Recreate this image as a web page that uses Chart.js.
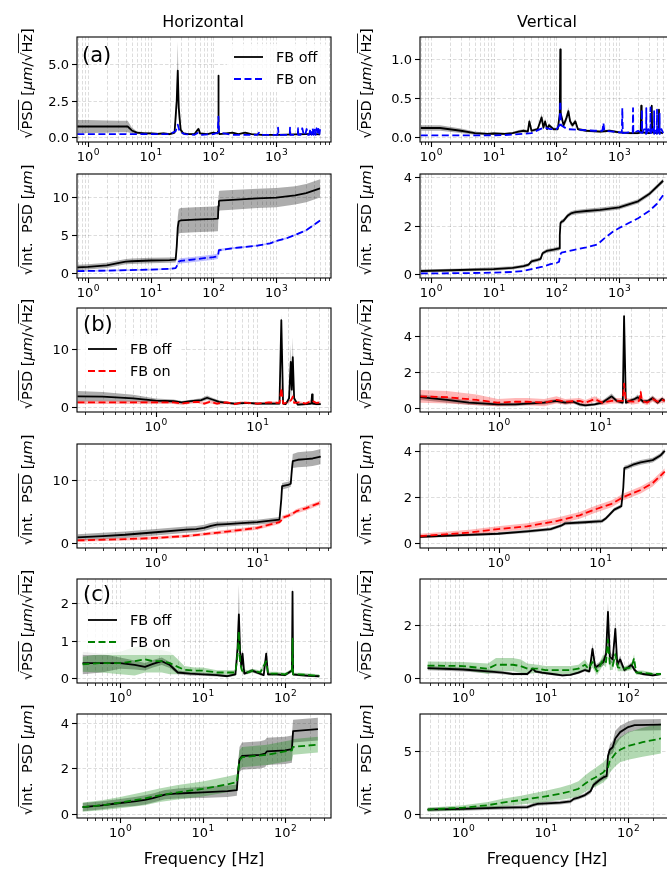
<!DOCTYPE html>
<html><head><meta charset="utf-8">
<script src="https://cdn.jsdelivr.net/npm/chart.js@4.4.0/dist/chart.umd.min.js"></script>
<style>
html,body{margin:0;padding:0;overflow:hidden;background:#fff;width:667px;height:871px;position:relative;}
canvas{position:absolute;left:0;top:0;}
</style></head><body>
<script>
// ================= DATA =================
// ---- (a) Horizontal PSD ----
const aH_psd_off_f  = [0.68,1,2,3,4.3,5,6,8,10,13,16,20,24,26,27,28,30,33,40,50,56,58,61,80,100,115,119,120,121,125,160,200,250,320,400,600,1000,2000,3000,4000,5000];
const aH_psd_off_y  = [0.72,0.72,0.72,0.72,0.72,0.45,0.3,0.25,0.25,0.22,0.25,0.2,0.3,2.5,4.55,2.0,0.5,0.25,0.2,0.2,0.5,0.55,0.25,0.2,0.3,0.25,0.4,4.2,0.4,0.2,0.25,0.3,0.2,0.3,0.2,0.15,0.15,0.18,0.2,0.2,0.18];
const aH_psd_off_sd = [0.45,0.45,0.42,0.4,0.4,0.2,0.1,0.08,0.08,0.08,0.08,0.08,0.1,1.0,2.0,0.8,0.2,0.08,0.06,0.06,0.1,0.1,0.06,0.06,0.06,0.06,0.1,0.6,0.1,0.05,0.05,0.05,0.05,0.05,0.05,0.04,0.04,0.04,0.05,0.05,0.05];
const aH_psd_on_f   = [0.68,20,25,27,29,35,50,57,65,100,117,120,123,200,300,500,530,560,800,1050,1070,1090,1400,1640,1660,1680,2000,2210,2230,2250,2450,2600,2750,2900,3050,3200,3350,3500,3650,3800,3950,4100,4250,4400,4550,4700,4850,5000];
const aH_psd_on_y   = [0.2,0.2,0.4,0.85,0.35,0.2,0.15,0.3,0.15,0.2,0.3,1.4,0.3,0.15,0.15,0.15,0.3,0.15,0.15,0.15,0.65,0.15,0.15,0.15,0.65,0.15,0.15,0.15,0.6,0.15,0.15,0.6,0.15,0.15,0.55,0.15,0.15,0.55,0.15,0.6,0.15,0.5,0.15,0.6,0.15,0.55,0.15,0.55];
// ---- (a) Vertical PSD ----
const aV_psd_off_f  = [0.69,1.4,3,5,8,10,15,20,25,30,35,37,40,50,58,62,66,71,76,90,105,113,115,117,130,145,155,165,180,200,220,300,500,700,1000,1500,2000,2200,2240,2280,3000,3250,3300,3350,4000,4250,4300,4350,5000];
const aV_psd_off_y  = [0.115,0.115,0.08,0.05,0.04,0.045,0.04,0.05,0.07,0.08,0.07,0.2,0.08,0.1,0.25,0.12,0.2,0.1,0.15,0.1,0.1,0.3,1.12,0.3,0.15,0.25,0.33,0.2,0.15,0.2,0.1,0.08,0.07,0.08,0.06,0.05,0.05,0.06,0.4,0.06,0.05,0.06,0.4,0.06,0.05,0.06,0.35,0.06,0.05];
const aV_psd_off_sd = [0.035,0.035,0.03,0.02,0.015,0.015,0.015,0.015,0.02,0.02,0.02,0.04,0.02,0.02,0.05,0.03,0.04,0.02,0.03,0.02,0.02,0.05,0.1,0.05,0.03,0.05,0.05,0.04,0.03,0.03,0.02,0.015,0.015,0.015,0.015,0.015,0.015,0.015,0.03,0.015,0.015,0.015,0.03,0.015,0.015,0.015,0.03,0.015,0.015];
const aV_psd_on_f   = [0.69,10,20,30,40,55,65,80,100,112,115,118,150,250,400,540,560,580,800,1000,1100,1120,1140,1400,1640,1660,1680,2000,2280,2300,2320,2500,2680,2700,2720,2900,3130,3150,3170,3400,3580,3600,3620,3800,3980,4000,4020,4200,4380,4400,4420,4700,5000];
const aV_psd_on_y   = [0.02,0.02,0.03,0.04,0.05,0.1,0.12,0.1,0.1,0.15,0.46,0.15,0.1,0.09,0.08,0.08,0.18,0.08,0.07,0.06,0.06,0.37,0.05,0.06,0.05,0.37,0.05,0.08,0.05,0.35,0.05,0.1,0.04,0.37,0.04,0.1,0.04,0.38,0.04,0.1,0.04,0.33,0.04,0.1,0.04,0.35,0.04,0.1,0.04,0.3,0.04,0.1,0.05];
// ---- (a) Horizontal integrated ----
const aH_int_off_f  = [0.68,1,2,3,4,5,10,20,25,26,27,28,30,50,100,118,120,122,125,200,500,1000,2000,3000,5000];
const aH_int_off_y  = [0.75,0.8,1.0,1.3,1.5,1.55,1.65,1.7,1.75,3.5,6.0,6.8,6.9,7.0,7.1,7.15,8.8,9.4,9.5,9.6,9.8,9.9,10.2,10.5,11.1];
const aH_int_off_sd = [0.35,0.35,0.35,0.35,0.35,0.35,0.35,0.35,0.35,0.8,1.4,1.6,1.65,1.65,1.65,1.65,1.4,1.3,1.3,1.3,1.25,1.25,1.2,1.2,1.2];
const aH_int_on_f   = [0.68,1,3,10,20,25,26,27,28,30,50,100,118,120,122,150,200,300,500,800,1000,1500,2000,3000,5000];
const aH_int_on_y   = [0.25,0.28,0.35,0.45,0.55,0.65,0.9,1.3,1.5,1.6,1.8,2.1,2.2,2.6,3.0,3.1,3.25,3.4,3.6,3.9,4.2,4.6,5.0,5.6,6.9];
const aH_int_on_sd  = [0.12,0.12,0.12,0.12,0.12,0.12,0.2,0.3,0.35,0.35,0.35,0.35,0.35,0.3,0.2,0.15,0.12,0.12,0.12,0.12,0.12,0.12,0.12,0.12,0.12];
// ---- (a) Vertical integrated ----
const aV_int_off_f  = [0.69,1,3,10,20,30,36,40,50,56,60,70,90,110,113,116,120,130,150,170,200,300,500,1000,2000,3000,5000];
const aV_int_off_y  = [0.12,0.13,0.16,0.2,0.25,0.32,0.38,0.52,0.58,0.62,0.85,0.95,1.0,1.05,1.6,2.1,2.15,2.2,2.4,2.5,2.55,2.6,2.65,2.75,3.0,3.3,3.85];
const aV_int_off_sd = [0.06,0.06,0.06,0.07,0.07,0.07,0.07,0.08,0.08,0.08,0.08,0.08,0.08,0.08,0.09,0.09,0.09,0.09,0.09,0.09,0.09,0.09,0.09,0.09,0.09,0.09,0.09];
const aV_int_on_f   = [0.69,3,10,20,30,40,60,80,100,110,115,120,200,300,450,600,800,1000,2000,3000,4000,5000];
const aV_int_on_y   = [0.02,0.03,0.05,0.08,0.12,0.2,0.3,0.4,0.45,0.5,0.8,0.88,1.0,1.1,1.22,1.5,1.75,1.9,2.3,2.6,2.9,3.25];
// ---- (b) Horizontal PSD ----
const bH_psd_off_f  = [0.17,0.3,0.6,1.0,1.5,1.8,2.2,2.8,3.2,3.6,4.2,5,6,8,10,13,16.5,17.2,17.9,19,20.5,21.3,21.8,22.3,23,25,30,34,34.5,35,38,42];
const bH_psd_off_y  = [1.85,1.8,1.5,1.1,1.0,0.8,1.0,1.2,1.6,1.3,0.9,0.7,0.6,0.7,0.6,0.6,0.6,15.0,0.6,0.5,1.5,7.8,3.0,8.6,1.5,0.4,0.5,0.6,2.2,0.6,0.5,0.5];
const bH_psd_off_sd = [0.9,0.8,0.6,0.35,0.3,0.25,0.25,0.3,0.4,0.3,0.25,0.2,0.2,0.2,0.2,0.2,0.2,1.0,0.2,0.2,0.5,3,1.5,3.5,0.5,0.2,0.2,0.2,0.4,0.2,0.2,0.2];
const bH_psd_on_f   = [0.17,0.5,1.0,1.5,1.8,2.2,2.6,3.0,3.4,4,5,6,7,8,10,13,16.5,17.2,17.9,20,21.5,22.3,23,26,30,34.5,38,42];
const bH_psd_on_y   = [0.8,0.8,0.8,0.8,0.6,0.8,0.9,0.6,0.9,0.6,0.8,0.5,0.8,0.7,0.6,0.8,0.7,3.3,0.6,0.8,1.2,1.8,0.7,0.8,0.6,1.1,0.7,0.8];
const bH_psd_on_sd  = [0.3,0.3,0.3,0.3,0.25,0.25,0.25,0.25,0.25,0.25,0.25,0.2,0.2,0.2,0.2,0.2,0.2,0.8,0.2,0.2,0.3,0.5,0.2,0.2,0.2,0.3,0.2,0.2];
// ---- (b) Vertical PSD ----
const bV_psd_off_f  = [0.168,0.31,0.51,0.98,1.45,1.9,2.8,3.7,4.5,5.4,6.25,7.1,8.8,10.4,12.9,14.5,16.6,17.1,17.8,19.4,21.7,23.3,26.5,29.6,32.7,36.6,40.4,43];
const bV_psd_off_y  = [0.6,0.45,0.3,0.2,0.2,0.25,0.3,0.4,0.3,0.35,0.2,0.15,0.2,0.3,0.65,0.4,0.3,5.1,0.3,0.4,0.5,0.6,0.35,0.4,0.55,0.3,0.5,0.4];
const bV_psd_off_sd = [0.15,0.15,0.12,0.1,0.1,0.1,0.1,0.1,0.1,0.1,0.1,0.08,0.08,0.1,0.15,0.1,0.1,0.4,0.1,0.1,0.1,0.15,0.1,0.1,0.15,0.1,0.1,0.1];
const bV_psd_on_f   = [0.168,0.31,0.605,0.98,1.45,1.9,2.8,3.7,4.5,6.25,7.1,8.8,10.4,12.9,16.6,17.1,17.8,20.9,24.1,24.9,25.7,28.8,32.7,36.6,40.4,43];
const bV_psd_on_y   = [0.65,0.6,0.45,0.3,0.35,0.35,0.3,0.45,0.35,0.4,0.3,0.5,0.3,0.4,0.4,1.35,0.4,0.35,0.4,0.9,0.4,0.3,0.5,0.35,0.45,0.4];
const bV_psd_on_sd  = [0.35,0.35,0.3,0.2,0.2,0.2,0.2,0.2,0.15,0.15,0.15,0.15,0.15,0.15,0.15,0.3,0.15,0.15,0.15,0.2,0.15,0.15,0.15,0.15,0.15,0.15];
// ---- (b) Horizontal integrated ----
const bH_int_off_f  = [0.17,0.3,0.5,1,2,2.5,3,3.5,4,5,7,10,16.5,17.2,17.5,20,21.3,21.8,22.3,25,30,35,42];
const bH_int_off_y  = [0.9,1.1,1.3,1.7,2.1,2.2,2.4,2.7,2.9,3.0,3.15,3.3,3.7,7.0,9.0,9.2,9.4,11.5,13.0,13.2,13.3,13.4,13.7];
const bH_int_off_sd = [0.5,0.5,0.5,0.5,0.5,0.5,0.5,0.5,0.45,0.4,0.4,0.4,0.4,0.5,0.5,0.5,0.5,0.9,1.1,1.2,1.2,1.2,1.2];
const bH_int_on_f   = [0.17,0.5,1,2,3,5,10,16.5,17.2,17.5,20,22,24,26,30,42];
const bH_int_on_y   = [0.4,0.6,0.8,1.1,1.4,1.8,2.4,3.3,3.6,4.0,4.3,4.6,5.0,5.2,5.5,6.4];
const bH_int_on_sd  = [0.2,0.22,0.25,0.25,0.27,0.3,0.3,0.3,0.3,0.3,0.32,0.33,0.34,0.35,0.35,0.35];
// ---- (b) Vertical integrated ----
const bV_int_off_f  = [0.168,0.51,0.98,1.9,3.24,4.1,4.5,7.1,10.4,11.2,12.1,13.7,16.1,16.8,17.2,18.6,20.9,24.9,32.7,38.9,43];
const bV_int_off_y  = [0.27,0.35,0.4,0.5,0.6,0.75,0.85,0.9,0.95,1.05,1.2,1.45,1.6,2.4,3.25,3.3,3.4,3.5,3.6,3.8,4.0];
const bV_int_off_sd = [0.06,0.06,0.06,0.07,0.07,0.07,0.08,0.08,0.08,0.08,0.08,0.08,0.08,0.1,0.1,0.1,0.1,0.1,0.1,0.1,0.1];
const bV_int_on_f   = [0.168,0.51,0.98,1.9,3.7,6.25,8.8,12.9,16.9,24.9,32.7,43];
const bV_int_on_y   = [0.3,0.45,0.6,0.72,0.95,1.2,1.45,1.7,2.0,2.3,2.6,3.1];
const bV_int_on_sd  = [0.1,0.12,0.13,0.14,0.15,0.15,0.15,0.15,0.15,0.15,0.15,0.15];
// ---- (c) Horizontal PSD ----
const cH_psd_off_f  = [0.35,0.6,1,1.5,2,2.5,3.2,4,5,7,10,15,20,25,26.5,27.5,28.5,29.5,30.5,32,40,55,59,62,80,100,121,123,125,150,200,260];
const cH_psd_off_y  = [0.4,0.4,0.4,0.35,0.3,0.38,0.45,0.35,0.15,0.12,0.1,0.08,0.05,0.1,0.8,1.7,0.7,0.3,0.65,0.12,0.2,0.08,0.65,0.1,0.1,0.08,0.2,2.3,0.1,0.08,0.06,0.05];
const cH_psd_off_sd = [0.3,0.25,0.15,0.12,0.1,0.1,0.1,0.08,0.05,0.05,0.04,0.04,0.03,0.04,0.3,0.8,0.2,0.08,0.1,0.04,0.05,0.03,0.1,0.03,0.03,0.03,0.05,0.2,0.03,0.03,0.03,0.03];
const cH_psd_on_f   = [0.35,0.6,1,1.5,2,2.5,3.2,4,5,6,8,10,15,20,25,26.5,27.5,28.5,30,35,40,50,59,62,80,100,121,123,125,150,200,260];
const cH_psd_on_y   = [0.37,0.4,0.4,0.45,0.5,0.45,0.45,0.4,0.3,0.22,0.2,0.2,0.15,0.15,0.15,0.6,1.25,0.4,0.2,0.15,0.2,0.15,0.45,0.12,0.12,0.1,0.2,1.05,0.1,0.1,0.08,0.06];
const cH_psd_on_sd  = [0.2,0.25,0.3,0.38,0.35,0.3,0.3,0.3,0.2,0.1,0.08,0.08,0.06,0.06,0.06,0.2,0.4,0.15,0.06,0.05,0.05,0.05,0.1,0.05,0.05,0.04,0.05,0.2,0.04,0.04,0.04,0.04];
// ---- (c) Vertical PSD ----
const cV_psd_off_f  = [0.37,1,2,3,4,6,6.5,7,7.5,9,12,16,20,25,30,34,37,40,45,50,54,57,60,65,70,74,80,90,100,110,120,130,150,200,250];
const cV_psd_off_y  = [0.37,0.32,0.25,0.2,0.15,0.15,0.25,0.35,0.25,0.2,0.15,0.1,0.12,0.2,0.3,0.25,1.1,0.4,0.5,0.6,0.9,2.5,0.8,0.7,1.85,0.5,0.7,0.3,0.4,0.5,0.3,0.2,0.15,0.1,0.15];
const cV_psd_off_sd = [0.08,0.08,0.07,0.06,0.05,0.05,0.05,0.06,0.05,0.05,0.05,0.04,0.04,0.05,0.06,0.06,0.2,0.1,0.1,0.15,0.2,0.4,0.2,0.15,0.3,0.1,0.15,0.08,0.08,0.1,0.08,0.05,0.05,0.04,0.04];
const cV_psd_on_f   = [0.37,1,2,2.5,4,5,6,8,10,15,20,25,30,33,37,42,50,54,57,60,65,70,75,90,110,118,125,150,200,250];
const cV_psd_on_y   = [0.47,0.45,0.35,0.5,0.5,0.45,0.35,0.35,0.3,0.3,0.3,0.35,0.5,0.35,0.6,0.25,0.7,0.6,1.45,0.5,0.45,0.9,0.4,0.35,0.4,0.75,0.2,0.2,0.15,0.15];
const cV_psd_on_sd  = [0.15,0.15,0.2,0.25,0.25,0.25,0.2,0.15,0.15,0.15,0.15,0.15,0.2,0.15,0.2,0.15,0.2,0.2,0.3,0.2,0.15,0.2,0.15,0.1,0.1,0.15,0.08,0.08,0.05,0.05];
// ---- (c) Horizontal integrated ----
const cH_int_off_f  = [0.35,0.6,1,1.5,2,2.5,3.5,5,10,20,26,27,28,30,50,57,60,100,121,123,125,250];
const cH_int_off_y  = [0.3,0.38,0.48,0.55,0.62,0.7,0.85,0.9,0.95,1.0,1.05,1.9,2.4,2.55,2.6,2.65,2.75,2.8,2.85,3.3,3.65,3.73];
const cH_int_off_sd = [0.18,0.18,0.18,0.2,0.2,0.2,0.2,0.22,0.25,0.25,0.25,0.4,0.55,0.6,0.6,0.6,0.6,0.6,0.6,0.55,0.5,0.5];
const cH_int_on_f   = [0.35,0.6,1,2,3,5,10,20,26,27,28,30,60,100,121,123,125,250];
const cH_int_on_y   = [0.3,0.38,0.5,0.68,0.82,0.95,1.1,1.3,1.4,1.9,2.35,2.5,2.6,2.75,2.8,2.9,2.95,3.05];
const cH_int_on_sd  = [0.2,0.22,0.25,0.3,0.3,0.32,0.33,0.35,0.35,0.4,0.45,0.45,0.45,0.45,0.45,0.4,0.35,0.35];
// ---- (c) Vertical integrated ----
const cV_int_off_f  = [0.37,1,3,6,7,8,15,20,22,25,30,35,38,45,50,55,57,60,65,70,80,100,120,250];
const cV_int_off_y  = [0.35,0.4,0.5,0.55,0.7,0.8,0.9,1.0,1.2,1.3,1.5,1.8,2.3,2.7,2.9,3.0,4.6,5.1,5.3,6.0,6.5,6.9,7.05,7.1];
const cV_int_off_sd = [0.15,0.15,0.15,0.15,0.15,0.15,0.15,0.15,0.15,0.15,0.15,0.2,0.2,0.2,0.2,0.2,0.3,0.4,0.5,0.6,0.5,0.45,0.45,0.45];
const cV_int_on_f   = [0.37,1,2,3,5,10,15,20,25,30,35,40,50,57,60,70,80,100,150,250];
const cV_int_on_y   = [0.35,0.5,0.7,0.9,1.1,1.4,1.6,1.8,2.0,2.4,2.7,2.9,3.3,3.7,4.2,4.8,5.1,5.4,5.7,6.0];
const cV_int_on_sd  = [0.15,0.2,0.25,0.3,0.35,0.45,0.5,0.55,0.6,0.65,0.7,0.75,0.8,0.85,0.9,1.0,1.0,1.1,1.15,1.2];

// ---- tick labels ----
const xTicks_a = [1,10,100,1000];   const xTickLabels_a = ['10^0','10^1','10^2','10^3'];
const xTicks_b = [1,10];            const xTickLabels_b = ['10^0','10^1'];
const xTicks_c = [1,10,100];        const xTickLabels_c = ['10^0','10^1','10^2'];
const yT_aH_psd = [0,2.5,5];  const yTL_aH_psd = ['0.0','2.5','5.0'];
const yT_aV_psd = [0,0.5,1];  const yTL_aV_psd = ['0.0','0.5','1.0'];
const yT_aH_int = [0,5,10];   const yTL_aH_int = ['0','5','10'];
const yT_aV_int = [0,2,4];    const yTL_aV_int = ['0','2','4'];
const yT_bH_psd = [0,10];     const yTL_bH_psd = ['0','10'];
const yT_bV_psd = [0,2,4];    const yTL_bV_psd = ['0','2','4'];
const yT_bH_int = [0,10];     const yTL_bH_int = ['0','10'];
const yT_bV_int = [0,2,4];    const yTL_bV_int = ['0','2','4'];
const yT_cH_psd = [0,1,2];    const yTL_cH_psd = ['0','1','2'];
const yT_cV_psd = [0,2];      const yTL_cV_psd = ['0','2'];
const yT_cH_int = [0,2,4];    const yTL_cH_int = ['0','2','4'];
const yT_cV_int = [0,5];      const yTL_cV_int = ['0','5'];

// ---- texts ----
const colTitles = ['Horizontal','Vertical'];
const panelTags = ['(a)','(b)','(c)'];
const legendLabels = ['FB off','FB on'];
const xTitle = 'Frequency [Hz]';
const yLabelPSD = [{t:'\u221A'},{t:'PSD',ov:1},{t:' ['},{t:'\u03BCm',it:1},{t:'/'},{t:'\u221A'},{t:'Hz',ov:1},{t:']'}];
const yLabelInt = [{t:'\u221A'},{t:'Int.  PSD',ov:1},{t:' ['},{t:'\u03BCm',it:1},{t:']'}];

// ================= LAYOUT / STYLE =================
const W = 680, H = 871;
const FF = '"DejaVu Sans", sans-serif';
const COLS = [[77,331],[420,674]];
const ROWS = [[37,142],[174,278],[308,412],[444,548],[579,683],[714,818]];
const YLAB_X = [32, 371];
const XR = {a:[0.67,7460], b:[0.168,53], c:[0.345,360]};
const XT = {a:[xTicks_a,xTickLabels_a], b:[xTicks_b,xTickLabels_b], c:[xTicks_c,xTickLabels_c]};
const ONC = {a:{line:'#0000ff',band:'rgba(0,0,255,0.25)'}, b:{line:'#ff0000',band:'rgba(255,0,0,0.28)'}, c:{line:'#008000',band:'rgba(0,128,0,0.3)'}};
const OFFC = {line:'#000000', band:'rgba(0,0,0,0.32)'};
const LEG = {a:[234,57], b:[88,349], c:[88,620]};
const TAG = {a:[82,62], b:[83,331], c:[83,601]};
const TICK_FS = 13, LAB_FS = 14.5, LEG_FS = 14.4, TITLE_FS = 16, TAG_FS = 21;

const panels = [
 {c:0,r:0,g:'a',yr:[-0.34,6.85],yt:yT_aH_psd,ytl:yTL_aH_psd,yl:yLabelPSD,S:[[aH_psd_off_f,aH_psd_off_y,aH_psd_off_sd],[aH_psd_on_f,aH_psd_on_y,null]]},
 {c:1,r:0,g:'a',yr:[-0.064,1.28],yt:yT_aV_psd,ytl:yTL_aV_psd,yl:yLabelPSD,S:[[aV_psd_off_f,aV_psd_off_y,aV_psd_off_sd],[aV_psd_on_f,aV_psd_on_y,null]]},
 {c:0,r:1,g:'a',yr:[-0.65,13.0],yt:yT_aH_int,ytl:yTL_aH_int,yl:yLabelInt,S:[[aH_int_off_f,aH_int_off_y,aH_int_off_sd],[aH_int_on_f,aH_int_on_y,aH_int_on_sd]]},
 {c:1,r:1,g:'a',yr:[-0.17,4.13],yt:yT_aV_int,ytl:yTL_aV_int,yl:yLabelInt,S:[[aV_int_off_f,aV_int_off_y,aV_int_off_sd],[aV_int_on_f,aV_int_on_y,null]]},
 {c:0,r:2,g:'b',yr:[-0.86,17.1],yt:yT_bH_psd,ytl:yTL_bH_psd,yl:yLabelPSD,S:[[bH_psd_off_f,bH_psd_off_y,bH_psd_off_sd],[bH_psd_on_f,bH_psd_on_y,bH_psd_on_sd]]},
 {c:1,r:2,g:'b',yr:[-0.22,5.55],yt:yT_bV_psd,ytl:yTL_bV_psd,yl:yLabelPSD,S:[[bV_psd_off_f,bV_psd_off_y,bV_psd_off_sd],[bV_psd_on_f,bV_psd_on_y,bV_psd_on_sd]]},
 {c:0,r:3,g:'b',yr:[-0.8,15.7],yt:yT_bH_int,ytl:yTL_bH_int,yl:yLabelInt,S:[[bH_int_off_f,bH_int_off_y,bH_int_off_sd],[bH_int_on_f,bH_int_on_y,bH_int_on_sd]]},
 {c:1,r:3,g:'b',yr:[-0.22,4.3],yt:yT_bV_int,ytl:yTL_bV_int,yl:yLabelInt,S:[[bV_int_off_f,bV_int_off_y,bV_int_off_sd],[bV_int_on_f,bV_int_on_y,bV_int_on_sd]]},
 {c:0,r:4,g:'c',yr:[-0.13,2.64],yt:yT_cH_psd,ytl:yTL_cH_psd,yl:yLabelPSD,S:[[cH_psd_off_f,cH_psd_off_y,cH_psd_off_sd],[cH_psd_on_f,cH_psd_on_y,cH_psd_on_sd]]},
 {c:1,r:4,g:'c',yr:[-0.19,3.74],yt:yT_cV_psd,ytl:yTL_cV_psd,yl:yLabelPSD,S:[[cV_psd_off_f,cV_psd_off_y,cV_psd_off_sd],[cV_psd_on_f,cV_psd_on_y,cV_psd_on_sd]]},
 {c:0,r:5,g:'c',yr:[-0.18,4.4],yt:yT_cH_int,ytl:yTL_cH_int,yl:yLabelInt,S:[[cH_int_off_f,cH_int_off_y,cH_int_off_sd],[cH_int_on_f,cH_int_on_y,cH_int_on_sd]]},
 {c:1,r:5,g:'c',yr:[-0.32,7.94],yt:yT_cV_int,ytl:yTL_cV_int,yl:yLabelInt,S:[[cV_int_off_f,cV_int_off_y,cV_int_off_sd],[cV_int_on_f,cV_int_on_y,cV_int_on_sd]]},
];

// ================= DRAW HELPERS =================
function font(fs, it){ return (it?'italic ':'') + fs + 'px ' + FF; }
function logGridValues(min, max){
  const out = [];
  for (let d = Math.floor(Math.log10(min)); d <= Math.ceil(Math.log10(max)); d++)
    for (let m = 1; m <= 9; m++){ const v = m*Math.pow(10,d); if (v >= min && v <= max) out.push({v, major: m===1}); }
  return out;
}
function drawPow(ctx, txt, cx, base){
  const parts = txt.split('^');
  ctx.font = font(TICK_FS); const wb = ctx.measureText(parts[0]).width;
  ctx.font = font(TICK_FS*0.7); const we = ctx.measureText(parts[1]).width;
  const x0 = cx - (wb + we)/2;
  ctx.textAlign = 'left'; ctx.textBaseline = 'alphabetic';
  ctx.font = font(TICK_FS); ctx.fillText(parts[0], x0, base);
  ctx.font = font(TICK_FS*0.7); ctx.fillText(parts[1], x0 + wb + 0.5, base - TICK_FS*0.45);
}
function drawYLabel(ctx, segs, xBase, cy, fs){
  ctx.save();
  ctx.translate(xBase, cy); ctx.rotate(-Math.PI/2);
  const ws = segs.map(s => { ctx.font = font(fs, s.it); return ctx.measureText(s.t).width; });
  const tot = ws.reduce((a,b)=>a+b,0);
  let x = -tot/2;
  ctx.fillStyle = '#000'; ctx.strokeStyle = '#000'; ctx.lineWidth = 0.9;
  ctx.textAlign = 'left'; ctx.textBaseline = 'alphabetic';
  segs.forEach((s,i) => {
    ctx.font = font(fs, s.it); ctx.fillText(s.t, x, 0);
    if (s.ov){ ctx.beginPath(); ctx.moveTo(x-0.6, -0.93*fs); ctx.lineTo(x+ws[i]+0.5, -0.93*fs); ctx.stroke(); }
    x += ws[i];
  });
  ctx.restore();
}
function drawLegend(ctx, g){
  const [x, y] = LEG[g]; const dy = 22;
  ctx.save();
  ctx.fillStyle = 'rgba(255,255,255,0.8)';
  ctx.beginPath(); ctx.roundRect(x-7, y-13, 100, dy+26, 3); ctx.fill();
  ctx.lineWidth = 1.8;
  ctx.strokeStyle = OFFC.line; ctx.setLineDash([]);
  ctx.beginPath(); ctx.moveTo(x, y); ctx.lineTo(x+29, y); ctx.stroke();
  ctx.strokeStyle = ONC[g].line; ctx.setLineDash([7,3.5]);
  ctx.beginPath(); ctx.moveTo(x, y+dy); ctx.lineTo(x+29, y+dy); ctx.stroke();
  ctx.setLineDash([]);
  ctx.fillStyle = '#000'; ctx.font = font(LEG_FS); ctx.textAlign='left'; ctx.textBaseline='alphabetic';
  ctx.fillText(legendLabels[0], x+42, y+0.36*LEG_FS);
  ctx.fillText(legendLabels[1], x+42, y+dy+0.36*LEG_FS);
  ctx.restore();
}

function makeDeco(p){
  return {
    id: 'deco',
    beforeDatasetsDraw(chart){
      const ctx = chart.ctx, a = chart.chartArea, xs = chart.scales.x, ys = chart.scales.y;
      ctx.save();
      ctx.strokeStyle = 'rgba(0,0,0,0.17)'; ctx.lineWidth = 0.8; ctx.setLineDash([3.5,2]);
      logGridValues(XR[p.g][0], XR[p.g][1]).forEach(t => {
        const px = Math.round(xs.getPixelForValue(t.v)) + 0.5;
        ctx.beginPath(); ctx.moveTo(px, a.top); ctx.lineTo(px, a.bottom); ctx.stroke();
      });
      p.yt.forEach(v => {
        const py = Math.round(ys.getPixelForValue(v)) + 0.5;
        ctx.beginPath(); ctx.moveTo(a.left, py); ctx.lineTo(a.right, py); ctx.stroke();
      });
      ctx.restore();
    },
    afterDatasetsDraw(chart){
      const ctx = chart.ctx, a = chart.chartArea, xs = chart.scales.x, ys = chart.scales.y;
      ctx.save();
      ctx.setLineDash([]); ctx.strokeStyle = '#000'; ctx.fillStyle = '#000';
      ctx.lineWidth = 1.1;
      ctx.strokeRect(a.left, a.top, a.right - a.left, a.bottom - a.top);
      logGridValues(XR[p.g][0], XR[p.g][1]).forEach(t => {
        const px = Math.round(xs.getPixelForValue(t.v)) + 0.5;
        ctx.lineWidth = t.major ? 1.1 : 0.8;
        ctx.beginPath(); ctx.moveTo(px, a.bottom); ctx.lineTo(px, a.bottom + (t.major ? 5 : 3)); ctx.stroke();
      });
      const [xt, xtl] = XT[p.g];
      xt.forEach((v,i) => drawPow(ctx, xtl[i], xs.getPixelForValue(v), a.bottom + 19));
      ctx.lineWidth = 1.1;
      ctx.font = font(TICK_FS); ctx.textAlign = 'right'; ctx.textBaseline = 'alphabetic';
      p.yt.forEach((v,i) => {
        const py = Math.round(ys.getPixelForValue(v)) + 0.5;
        ctx.beginPath(); ctx.moveTo(a.left - 5, py); ctx.lineTo(a.left, py); ctx.stroke();
        ctx.fillText(p.ytl[i], a.left - 8, py + 0.365*TICK_FS);
      });
      drawYLabel(ctx, p.yl, YLAB_X[p.c], (a.top + a.bottom)/2 - 6, LAB_FS);
      if (p.r === 0){
        ctx.font = font(TITLE_FS); ctx.textAlign = 'center'; ctx.textBaseline='alphabetic';
        ctx.fillText(colTitles[p.c], p.c ? 547 : 203, 27);
      }
      if (p.r === 5){
        ctx.font = font(TITLE_FS); ctx.textAlign = 'center'; ctx.textBaseline='alphabetic';
        ctx.fillText(xTitle, p.c ? 547 : 204, 864);
      }
      if (p.c === 0 && p.r % 2 === 0){
        drawLegend(ctx, p.g);
        ctx.fillStyle = '#000'; ctx.font = font(TAG_FS); ctx.textAlign = 'left'; ctx.textBaseline='alphabetic';
        ctx.fillText(panelTags[p.r/2], TAG[p.g][0], TAG[p.g][1]);
      }
      ctx.restore();
    }
  };
}

// ================= BUILD CHARTS =================
panels.forEach(p => {
  const cv = document.createElement('canvas');
  cv.width = W; cv.height = H;
  document.body.appendChild(cv);
  const [L, R] = COLS[p.c], [T, B] = ROWS[p.r];
  const datasets = [];
  p.S.forEach((s, k) => {
    const [f, y, sd] = s;
    const col = k === 0 ? OFFC : ONC[p.g];
    if (sd){
      datasets.push({data: f.map((x,i)=>({x, y: y[i]+sd[i]})), borderWidth:0, borderColor:'rgba(0,0,0,0)', pointRadius:0, fill:'+1', backgroundColor: col.band, order: 3-k});
      datasets.push({data: f.map((x,i)=>({x, y: y[i]-sd[i]})), borderWidth:0, borderColor:'rgba(0,0,0,0)', pointRadius:0, fill:false, order: 3-k});
    }
    datasets.push({data: f.map((x,i)=>({x, y: y[i]})), borderColor: col.line, borderWidth: 1.8, borderDash: k ? [7,3.5] : [], pointRadius: 0, fill: false, order: 1-k, borderJoinStyle:'round'});
  });
  new Chart(cv, {
    type: 'line',
    data: {datasets},
    options: {
      responsive: false, animation: false, events: [],
      layout: {padding: {left: L, right: W - R, top: T, bottom: H - B}},
      scales: {
        x: {type:'logarithmic', min: XR[p.g][0], max: XR[p.g][1], display: false},
        y: {type:'linear', min: p.yr[0], max: p.yr[1], display: false}
      },
      plugins: {legend: {display:false}, tooltip: {enabled:false}}
    },
    plugins: [makeDeco(p)]
  });
});
</script>
</body></html>
